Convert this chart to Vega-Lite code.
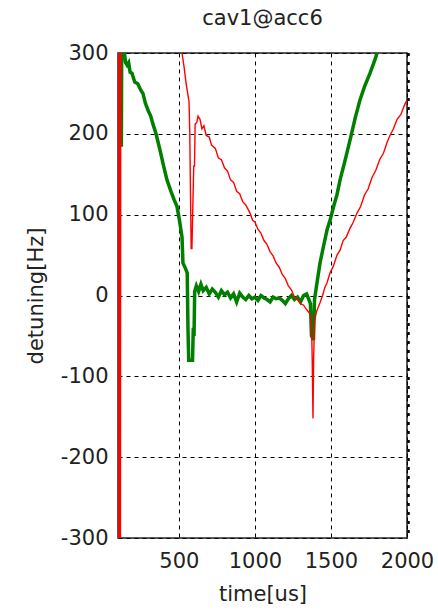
{
  "$schema": "https://vega.github.io/schema/vega-lite/v6.json",
  "autosize": {"type": "none"},
  "width": 289,
  "height": 485,
  "padding": {"left": 118, "top": 53, "right": 31, "bottom": 75},
  "background": "white",
  "title": {"text": "cav1@acc6", "fontSize": 21, "font": "DejaVu Sans", "fontWeight": "normal", "color": "#222", "offset": 13},
  "config": {
    "view": {"stroke": "#222", "strokeWidth": 1.5},
    "axis": {
      "labelFont": "DejaVu Sans", "labelFontSize": 21, "labelColor": "#222",
      "titleFont": "DejaVu Sans", "titleFontSize": 21, "titleFontWeight": "normal", "titleColor": "#222",
      "grid": true, "gridColor": "#000", "gridDash": [4, 4], "gridWidth": 1, "gridOpacity": 1,
      "domain": false, "ticks": false, "labelOverlap": false, "labelFlush": false, "labelExpr": "'' + datum.value"
    }
  },
  "datasets": {
    "red": [
      {"t": 100, "v": -320}, {"t": 102, "v": 320}, {"t": 104, "v": -320}, {"t": 106, "v": 320},
      {"t": 108, "v": -320}, {"t": 110, "v": 320}, {"t": 112, "v": -320}, {"t": 114, "v": 320},
      {"t": 116, "v": -320}, {"t": 118, "v": 320}, {"t": 122, "v": 900}, {"t": 500, "v": 340},
      {"t": 521, "v": 300}, {"t": 535, "v": 282}, {"t": 548, "v": 262}, {"t": 560, "v": 248},
      {"t": 567, "v": 240}, {"t": 572, "v": 200}, {"t": 577, "v": 120}, {"t": 581, "v": 58},
      {"t": 586, "v": 58}, {"t": 592, "v": 110}, {"t": 598, "v": 160}, {"t": 603, "v": 160},
      {"t": 607, "v": 212}, {"t": 618, "v": 214}, {"t": 626, "v": 222}, {"t": 639, "v": 218},
      {"t": 652, "v": 206}, {"t": 665, "v": 210}, {"t": 680, "v": 198}, {"t": 700, "v": 196},
      {"t": 715, "v": 186}, {"t": 740, "v": 182}, {"t": 760, "v": 170}, {"t": 780, "v": 168},
      {"t": 800, "v": 158}, {"t": 820, "v": 154}, {"t": 840, "v": 143}, {"t": 860, "v": 140},
      {"t": 880, "v": 129}, {"t": 900, "v": 126}, {"t": 920, "v": 116}, {"t": 940, "v": 112},
      {"t": 968, "v": 102}, {"t": 985, "v": 93}, {"t": 1000, "v": 91}, {"t": 1020, "v": 82},
      {"t": 1040, "v": 77}, {"t": 1060, "v": 68}, {"t": 1080, "v": 63}, {"t": 1100, "v": 54},
      {"t": 1120, "v": 49}, {"t": 1140, "v": 40}, {"t": 1160, "v": 35}, {"t": 1180, "v": 26},
      {"t": 1200, "v": 21}, {"t": 1220, "v": 12}, {"t": 1240, "v": 7}, {"t": 1260, "v": -2},
      {"t": 1280, "v": -5}, {"t": 1300, "v": -10}, {"t": 1320, "v": -12}, {"t": 1343, "v": -18},
      {"t": 1360, "v": -22}, {"t": 1372, "v": -32}, {"t": 1377, "v": -80}, {"t": 1382, "v": -152},
      {"t": 1386, "v": -80}, {"t": 1392, "v": -32}, {"t": 1405, "v": -20}, {"t": 1428, "v": -9},
      {"t": 1445, "v": 0}, {"t": 1460, "v": 10}, {"t": 1475, "v": 16}, {"t": 1494, "v": 28},
      {"t": 1515, "v": 36}, {"t": 1540, "v": 50}, {"t": 1560, "v": 56}, {"t": 1580, "v": 68},
      {"t": 1600, "v": 72}, {"t": 1625, "v": 83}, {"t": 1645, "v": 90}, {"t": 1671, "v": 102},
      {"t": 1695, "v": 110}, {"t": 1720, "v": 124}, {"t": 1745, "v": 132}, {"t": 1770, "v": 146},
      {"t": 1795, "v": 155}, {"t": 1820, "v": 168}, {"t": 1845, "v": 176}, {"t": 1870, "v": 190},
      {"t": 1888, "v": 198}, {"t": 1910, "v": 206}, {"t": 1935, "v": 218}, {"t": 1960, "v": 224},
      {"t": 1980, "v": 234}, {"t": 2000, "v": 242}
    ],
    "green": [
      {"t": 122, "v": 184}, {"t": 124, "v": 290}, {"t": 128, "v": 300}, {"t": 135, "v": 292},
      {"t": 142, "v": 300}, {"t": 150, "v": 288}, {"t": 160, "v": 285}, {"t": 170, "v": 288},
      {"t": 180, "v": 276}, {"t": 192, "v": 275}, {"t": 210, "v": 264}, {"t": 230, "v": 262},
      {"t": 250, "v": 254}, {"t": 264, "v": 250}, {"t": 280, "v": 238}, {"t": 300, "v": 228},
      {"t": 315, "v": 222}, {"t": 330, "v": 212}, {"t": 350, "v": 200}, {"t": 376, "v": 180},
      {"t": 400, "v": 160}, {"t": 422, "v": 143}, {"t": 450, "v": 128}, {"t": 470, "v": 118},
      {"t": 488, "v": 110}, {"t": 505, "v": 92}, {"t": 521, "v": 72}, {"t": 527, "v": 40},
      {"t": 540, "v": 35}, {"t": 555, "v": 28}, {"t": 560, "v": -40}, {"t": 565, "v": -80},
      {"t": 590, "v": -80}, {"t": 595, "v": -40}, {"t": 600, "v": -50}, {"t": 604, "v": 5},
      {"t": 615, "v": 12}, {"t": 630, "v": 5}, {"t": 645, "v": 14}, {"t": 660, "v": 6},
      {"t": 680, "v": 10}, {"t": 700, "v": 2}, {"t": 720, "v": 8}, {"t": 740, "v": 4},
      {"t": 760, "v": -2}, {"t": 780, "v": 6}, {"t": 800, "v": 1}, {"t": 820, "v": 4},
      {"t": 840, "v": -3}, {"t": 860, "v": 2}, {"t": 880, "v": -8}, {"t": 900, "v": 3},
      {"t": 920, "v": -2}, {"t": 940, "v": -5}, {"t": 960, "v": 0}, {"t": 980, "v": -4},
      {"t": 1000, "v": -2}, {"t": 1020, "v": -6}, {"t": 1040, "v": 0}, {"t": 1060, "v": -3},
      {"t": 1080, "v": -5}, {"t": 1100, "v": -8}, {"t": 1120, "v": -2}, {"t": 1140, "v": -4},
      {"t": 1160, "v": -3}, {"t": 1180, "v": -6}, {"t": 1200, "v": -10}, {"t": 1220, "v": -4},
      {"t": 1240, "v": 0}, {"t": 1260, "v": -5}, {"t": 1280, "v": -2}, {"t": 1300, "v": -8},
      {"t": 1320, "v": 0}, {"t": 1340, "v": 2}, {"t": 1355, "v": -5}, {"t": 1365, "v": -10},
      {"t": 1372, "v": -50}, {"t": 1385, "v": -55}, {"t": 1392, "v": -5}, {"t": 1410, "v": 18},
      {"t": 1428, "v": 40}, {"t": 1450, "v": 60}, {"t": 1474, "v": 81}, {"t": 1494, "v": 93},
      {"t": 1520, "v": 112}, {"t": 1540, "v": 125}, {"t": 1560, "v": 143}, {"t": 1590, "v": 165},
      {"t": 1625, "v": 192}, {"t": 1660, "v": 220}, {"t": 1691, "v": 242}, {"t": 1720, "v": 258},
      {"t": 1757, "v": 275}, {"t": 1790, "v": 292}, {"t": 1803, "v": 300}, {"t": 1815, "v": 312}
    ]
  },
  "layer": [
    {
      "data": {"name": "green"},
      "mark": {"type": "line", "color": "#007f00", "strokeWidth": 3.5, "clip": true},
      "encoding": {
        "x": {"field": "t", "type": "quantitative", "scale": {"domain": [100, 2000], "nice": false, "zero": false},
              "axis": {"values": [500, 1000, 1500, 2000], "title": "time[us]", "labelPadding": 12, "titlePadding": 12}},
        "y": {"field": "v", "type": "quantitative", "scale": {"domain": [-300, 300], "nice": false, "zero": false},
              "axis": {"values": [-300, -200, -100, 0, 100, 200, 300], "title": "detuning[Hz]", "labelPadding": 10, "titlePadding": 14}}
      }
    },
    {
      "data": {"name": "red"},
      "mark": {"type": "line", "color": "#ff0000", "strokeWidth": 1.4, "clip": true},
      "encoding": {
        "x": {"field": "t", "type": "quantitative"},
        "y": {"field": "v", "type": "quantitative"}
      }
    },
    {
      "data": {"values": [{}]},
      "mark": {"type": "rule", "color": "#000", "strokeWidth": 2.5, "strokeDash": [3, 6], "xOffset": 1.5},
      "encoding": {
        "x": {"datum": 2000, "type": "quantitative"}
      }
    }
  ]
}
